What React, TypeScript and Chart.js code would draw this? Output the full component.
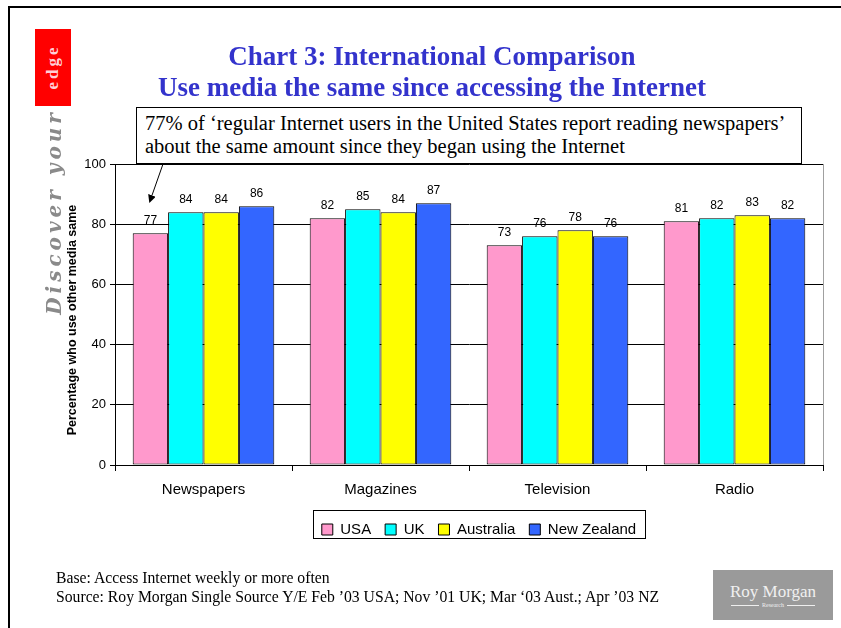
import React, { useEffect, useRef } from "react";
import { Chart, registerables } from "chart.js";

Chart.register(...registerables);

const categories = ["Newspapers", "Magazines", "Television", "Radio"];
const seriesNames = ["USA", "UK", "Australia", "New Zealand"];
const usa = [77, 82, 73, 81];
const uk = [84, 85, 76, 82];
const australia = [84, 84, 78, 83];
const newZealand = [86, 87, 76, 82];
const seriesColors = ["#FF99CC", "#00FFFF", "#FFFF00", "#3366FF"];
const yTicks = [0, 20, 40, 60, 80, 100];

const titleLines = [
  "Chart 3: International Comparison",
  "Use media the same since accessing the Internet",
];
const yAxisTitle = "Percentage who use other media same";
const noteLines = [
  "77% of \u2018regular Internet users in the United States report reading newspapers\u2019",
  "about the same amount since they began using the Internet",
];
const footLines = [
  "Base: Access Internet weekly or more often",
  "Source: Roy Morgan Single Source Y/E Feb \u201903 USA; Nov \u201901 UK; Mar \u201803 Aust.; Apr \u201903 NZ",
];

const valueLabels = {
  id: "valueLabels",
  afterDatasetsDraw(chart: any) {
    const ctx = chart.ctx;
    ctx.save();
    ctx.font = "12px Arial, 'Liberation Sans', sans-serif";
    ctx.fillStyle = "#000";
    ctx.textAlign = "center";
    ctx.textBaseline = "alphabetic";
    chart.data.datasets.forEach((ds: any, i: number) => {
      const meta = chart.getDatasetMeta(i);
      meta.data.forEach((bar: any, j: number) => {
        ctx.fillText(String(ds.data[j]), bar.x, bar.y - 9);
      });
    });
    ctx.restore();
  },
};

const frameAndLegend = {
  id: "frameAndLegend",
  afterLayout(chart: any) {
    const lg = chart.legend;
    if (lg) {
      lg.left += 30;
      lg.right += 30;
    }
  },
  beforeDatasetsDraw(chart: any) {
    const { ctx, chartArea } = chart;
    ctx.save();
    ctx.strokeStyle = "#A0A0A0";
    ctx.lineWidth = 1;
    ctx.beginPath();
    ctx.moveTo(chartArea.right + 0.5, chartArea.top);
    ctx.lineTo(chartArea.right + 0.5, chartArea.bottom);
    ctx.stroke();
    ctx.restore();
  },
  afterDraw(chart: any) {
    const lg = chart.legend;
    if (!lg || !lg.lineWidths) return;
    const ctx = chart.ctx;
    const w = lg.lineWidths[0];
    const cx = (lg.left + lg.right) / 2;
    ctx.save();
    ctx.strokeStyle = "#000";
    ctx.lineWidth = 1;
    ctx.strokeRect(Math.round(cx - w / 2 - 2) + 0.5, Math.round(lg.top + 2) + 0.5, Math.round(w + 4), 28);
    ctx.restore();
  },
};

export default function App() {
  const ref = useRef<HTMLCanvasElement | null>(null);

  useEffect(() => {
    if (!ref.current) return;
    const data = [usa, uk, australia, newZealand];
    const chart = new Chart(ref.current, {
      type: "bar",
      data: {
        labels: categories,
        datasets: seriesNames.map((name, i) => ({
          label: name,
          data: data[i],
          backgroundColor: seriesColors[i],
          borderColor: "#000",
          borderWidth: 1,
          borderSkipped: false,
          categoryPercentage: 0.8,
          barPercentage: 1.0,
        })),
      },
      options: {
        responsive: false,
        animation: false,
        devicePixelRatio: 1,
        layout: { padding: { left: 75, right: 18, top: 164, bottom: 81 } },
        plugins: {
          title: { display: false },
          tooltip: { enabled: false },
          legend: {
            display: true,
            position: "bottom",
            labels: {
              boxWidth: 11,
              boxHeight: 11,
              padding: 14,
              color: "#000",
              font: { family: "Arial, 'Liberation Sans', sans-serif", size: 15 },
            },
          },
        },
        scales: {
          x: {
            afterFit: (s: any) => {
              s.height = 43;
            },
            grid: {
              display: true,
              drawOnChartArea: false,
              drawTicks: true,
              tickLength: 6,
              color: "#000",
              offset: true,
            },
            border: { display: true, color: "#000", width: 1 },
            ticks: {
              color: "#000",
              padding: 10,
              font: { family: "Arial, 'Liberation Sans', sans-serif", size: 15 },
            },
          },
          y: {
            min: 0,
            max: 100,
            afterFit: (s: any) => {
              s.width = 40;
            },
            afterBuildTicks: (s: any) => {
              s.ticks = yTicks.map((v) => ({ value: v }));
            },
            grid: {
              display: true,
              color: "#000",
              lineWidth: 1,
              tickLength: 5,
            },
            border: { display: true, color: "#000", width: 1 },
            ticks: {
              color: "#000",
              padding: 4,
              font: { family: "Arial, 'Liberation Sans', sans-serif", size: 13 },
            },
          },
        },
      },
      plugins: [valueLabels, frameAndLegend],
    });
    return () => chart.destroy();
  }, []);

  const serif = "'Times New Roman', 'Liberation Serif', Times, serif";
  const sans = "Arial, 'Liberation Sans', sans-serif";

  return (
    <div style={{ position: "absolute", left: 0, top: 0, width: 841, height: 628, overflow: "hidden", background: "#fff" }}>
      <div style={{ position: "absolute", left: 8, top: 6, width: 900, height: 700, borderLeft: "2px solid #000", borderTop: "2px solid #000" }} />
      <canvas ref={ref} width={841} height={628} style={{ position: "absolute", left: 0, top: 0, width: 841, height: 628 }} />
      {/* Left logo */}
      <div style={{ position: "absolute", left: 35, top: 29, width: 36, height: 77, background: "#FF0000" }} />
      <div
        style={{
          position: "absolute",
          left: 53,
          top: 67,
          transform: "translate(-50%, -50%) rotate(-90deg)",
          color: "#FFD0D8",
          fontFamily: serif,
          fontWeight: "bold",
          fontSize: 17,
          letterSpacing: 3,
          whiteSpace: "nowrap",
        }}
      >
        edge
      </div>
      <div
        style={{
          position: "absolute",
          left: 54,
          top: 212,
          transform: "translate(-50%, -50%) rotate(-90deg)",
          color: "#8A8A8A",
          fontFamily: "'DejaVu Serif', serif",
          fontWeight: "bold",
          fontStyle: "italic",
          fontSize: 20,
          letterSpacing: 4,
          whiteSpace: "nowrap",
        }}
      >
        Discover your
      </div>
      {/* Title */}
      <div
        style={{
          position: "absolute",
          left: 0,
          width: 864,
          top: 41,
          textAlign: "center",
          color: "#3333CC",
          fontFamily: serif,
          fontWeight: "bold",
          fontSize: 27,
          lineHeight: "31px",
        }}
      >
        <div>{titleLines[0]}</div>
        <div>{titleLines[1]}</div>
      </div>
      {/* Y axis title */}
      <div
        style={{
          position: "absolute",
          left: 72,
          top: 320,
          transform: "translate(-50%, -50%) rotate(-90deg)",
          fontFamily: sans,
          fontWeight: "bold",
          fontSize: 12.5,
          whiteSpace: "nowrap",
          color: "#000",
        }}
      >
        {yAxisTitle}
      </div>
      {/* Annotation */}
      <div
        style={{
          position: "absolute",
          left: 136,
          top: 107,
          width: 666,
          height: 57,
          border: "1px solid #000",
          background: "#fff",
          boxSizing: "border-box",
          fontFamily: serif,
          fontSize: 20.5,
          lineHeight: "23px",
          paddingLeft: 8,
          paddingTop: 4,
          color: "#000",
          whiteSpace: "nowrap",
        }}
      >
        <div>{noteLines[0]}</div>
        <div>{noteLines[1]}</div>
      </div>
      <svg style={{ position: "absolute", left: 0, top: 0 }} width={841} height={628}>
        <defs>
          <marker id="ah" markerWidth="8" markerHeight="8" refX="6" refY="4" orient="auto" markerUnits="userSpaceOnUse">
            <path d="M0,0 L8,4 L0,8 Z" fill="#000" />
          </marker>
        </defs>
        <line x1={163} y1={164} x2={150} y2={201} stroke="#000" strokeWidth={1} markerEnd="url(#ah)" />
      </svg>
      {/* Footer */}
      <div
        style={{
          position: "absolute",
          left: 56,
          top: 568,
          fontFamily: serif,
          fontSize: 15.7,
          lineHeight: "19px",
          color: "#000",
          whiteSpace: "nowrap",
        }}
      >
        <div>{footLines[0]}</div>
        <div>{footLines[1]}</div>
      </div>
      {/* Roy Morgan logo */}
      <div
        style={{
          position: "absolute",
          left: 713,
          top: 570,
          width: 120,
          height: 50,
          background: "#9A9A9A",
          color: "#F0F0F0",
          fontFamily: serif,
          textAlign: "center",
        }}
      >
        <div style={{ fontSize: 17, marginTop: 13, lineHeight: "18px" }}>Roy Morgan</div>
        <div style={{ fontSize: 6, lineHeight: "8px", display: "flex", alignItems: "center", justifyContent: "center", gap: 3 }}>
          <span style={{ display: "inline-block", width: 28, borderTop: "1px solid #eee" }} />
          <span>Research</span>
          <span style={{ display: "inline-block", width: 28, borderTop: "1px solid #eee" }} />
        </div>
      </div>
    </div>
  );
}
